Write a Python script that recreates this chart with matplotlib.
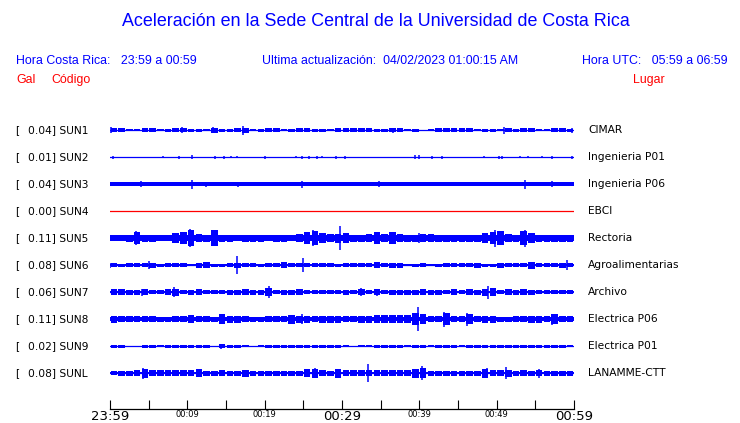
import numpy as np
import matplotlib.pyplot as plt
from matplotlib.transforms import blended_transform_factory

# estaciones (de arriba hacia abajo)
codigos = ['SUN1', 'SUN2', 'SUN3', 'SUN4', 'SUN5', 'SUN6', 'SUN7', 'SUN8', 'SUN9', 'SUNL']
gal_max = ['0.04', '0.01', '0.04', '0.00', '0.11', '0.08', '0.06', '0.11', '0.02', '0.08']
lugares = ['CIMAR', 'Ingenieria P01', 'Ingenieria P06', 'EBCI', 'Rectoria',
           'Agroalimentarias', 'Archivo', 'Electrica P06', 'Electrica P01', 'LANAMME-CTT']

# eje de tiempo: minutos desde 23:59
minutos_ticks = [0, 5, 10, 15, 20, 25, 30, 35, 40, 45, 50, 55, 60]
etiquetas_ticks = ['23:59', '', '00:09', '', '00:19', '', '00:29', '', '00:39', '', '00:49', '', '00:59']

# nivel de ruido continuo de cada traza (amplitud relativa)
ruido = [0.5, 0.5, 1.8, 0.5, 2.7, 0.7, 1.0, 2.0, 0.5, 1.3]

# envolvente por minuto (amplitud relativa)
env_sun1 = [2, 2, 1, 1, 2, 2, 1, 1.5, 2, 2, 1.5, 1.5, 1, 2.5, 1.5, 1.5, 2, 2.5, 1, 1.5,
            2, 2, 1, 1.5, 2, 2, 1.5, 1.5, 1, 2, 2, 2, 2, 2, 1.5, 1.5, 2, 2, 1, 1.5,
            0.5, 1, 2, 2, 2, 2, 2, 1, 1.5, 1.5, 1, 2, 1.5, 2, 2, 1, 1, 2, 2, 1.5]
env_sun5 = [3, 3, 3.5, 6, 3.5, 3.5, 3, 3, 5, 6, 8, 4, 3.5, 8, 3.5, 3.5, 3, 3.5, 3.5, 3.5,
            3, 3.5, 3.5, 3, 4, 6, 7, 5, 4, 4.5, 5, 3.5, 3.5, 4, 6, 4, 6, 4, 3.5, 3.5,
            4, 4, 3.5, 3.5, 3.5, 3.5, 3.5, 3.5, 5, 6, 7, 4, 3.5, 7, 5, 3.5, 3.5, 3.5, 3.5, 3.5]
env_sun6 = [2, 1.5, 2, 2, 2, 2.5, 1.5, 2, 2, 2, 1, 2.5, 3, 1.5, 1.5, 2, 2.5, 2, 2, 1.5,
            2, 2, 3, 2, 2, 2, 2, 2, 2, 1.5, 2, 2, 2, 2, 3, 2, 2.5, 2.5, 1, 1.5,
            2, 1, 1.5, 2, 2, 2, 2, 2.5, 1.5, 1.5, 2.5, 2, 2, 2, 3.5, 2, 2, 2, 2.5, 2]
env_sun7 = [3, 3, 2.5, 2.5, 3, 2, 2, 3, 3.5, 2, 2.5, 3, 2, 2, 2, 2.5, 2.5, 3, 2.5, 2.5,
            4, 2, 2.5, 2.5, 3, 2, 2, 2, 2, 2, 2.5, 2, 3, 2, 3, 2, 2.5, 2.5, 2.5, 2.5,
            3, 2.5, 2.5, 2, 3, 2, 3, 2.5, 3.5, 4, 2, 3, 2.5, 3, 2.5, 2, 2, 2, 2, 2]
env_sun8 = [3.5, 3, 3, 3, 3, 3, 2.5, 2.5, 3, 3, 4, 3, 3, 2.5, 5, 3.5, 3.5, 3, 2.5, 2.5,
            3, 3, 3, 4.5, 3.5, 3.5, 3, 3.5, 3.5, 3.5, 3, 3, 3.5, 3.5, 4, 4, 4, 4, 4, 6,
            5, 3, 3, 6, 3, 3, 5, 3, 3.5, 3.5, 2.5, 2.5, 3, 3, 3.5, 3.5, 3, 5, 3, 3]
env_sun9 = [1.5, 1.5, 0.5, 0.5, 1.5, 1.5, 1, 1.5, 1.5, 1.5, 1.5, 1.5, 1.5, 0.5, 2, 1.5, 1.5, 1, 0.5, 1,
            1.5, 1.5, 1.5, 1.5, 1.5, 1.5, 1.5, 1.5, 1.5, 1.5, 1, 0.5, 1, 1, 1.5, 1.5, 1.5, 1.5, 1, 1.5,
            1.5, 1, 1.5, 1.5, 1.5, 1, 1.5, 1.5, 1.5, 1.5, 1.5, 1.5, 1.5, 1.5, 1.5, 1.5, 1.5, 1.5, 1.5, 1]
env_sunl = [2, 2.5, 2.5, 3, 4.5, 3, 3, 3, 3, 3, 3, 4, 2.5, 2.5, 3, 2.5, 2.5, 3.5, 2.5, 2.5,
            2.5, 2.5, 2.5, 2.5, 2.5, 4, 4.5, 3, 2.5, 4.5, 3, 3, 3, 3, 3, 3, 3, 3, 3, 4.5,
            5, 2.5, 2.5, 2.5, 2.5, 2.5, 2.5, 2.5, 4.5, 3, 3, 3.5, 2.5, 3, 2.5, 3, 2.5, 2.5, 2.5, 2.5]
envolventes = [env_sun1, None, None, None, env_sun5, env_sun6, env_sun7, env_sun8, env_sun9, env_sunl]

# picos aislados: (minuto, amplitud)
picos_sun1 = [(0.1, 3), (9.3, 3), (13.3, 3), (17.2, 4.5), (36.6, 2.5), (51.0, 3.5), (59.8, 2.5)]
picos_sun2 = [(0.4, 1.5), (6.8, 1), (8.9, 1.5), (10.6, 2), (13.6, 1.5), (14.7, 1.5), (15.7, 1),
              (16.4, 1), (20.0, 1.5), (24.1, 1), (24.8, 1.5), (25.7, 1.5), (26.8, 1.5), (27.4, 1),
              (29.2, 1.5), (30.4, 1.5), (39.4, 2), (39.9, 2), (41.6, 1.5), (42.9, 1.5), (48.3, 1),
              (50.3, 1.5), (50.7, 1.5), (53.0, 1), (54.0, 1), (55.9, 1), (57.2, 1.5), (59.7, 1.5)]
picos_sun3 = [(4.0, 2.7), (10.6, 4.5), (12.4, 2.5), (16.5, 2.5), (24.8, 3.5), (34.8, 3),
              (53.7, 4.5), (57.2, 3)]
picos_sun4 = []
picos_sun5 = [(3.4, 7), (10.4, 8.7), (13.3, 8), (26.2, 8), (29.8, 12), (40.0, 5), (49.8, 8.5), (53.7, 8.5)]
picos_sun6 = [(0.0, 2.5), (5.1, 4), (16.4, 8.7), (24.9, 6.7), (54.5, 3.5), (59.1, 5)]
picos_sun7 = [(4.2, 3.5), (8.3, 5), (20.5, 5.8), (32.5, 4), (34.5, 3.5), (48.9, 6.5)]
picos_sun8 = [(14.4, 5.3), (24.8, 5), (39.8, 12), (43.2, 7.5), (46.1, 6.5), (57.1, 5.5)]
picos_sun9 = [(14.4, 2.5)]
picos_sunl = [(4.3, 5.5), (26.5, 5), (33.4, 9.3), (40.3, 6.7), (48.7, 5), (51.2, 6), (55.5, 4.5)]
picos = [picos_sun1, picos_sun2, picos_sun3, picos_sun4, picos_sun5,
         picos_sun6, picos_sun7, picos_sun8, picos_sun9, picos_sunl]

W, H = 740, 423
fig = plt.figure(figsize=(W / 100, H / 100), dpi=100)
fig.patch.set_facecolor('white')

def fx(px):
    return px / W

def fy(py):
    return 1 - py / H

azul = '#0000ff'
rojo = '#ff0000'
sans = ['Liberation Sans', 'DejaVu Sans']

# titulo y encabezados
fig.text(fx(376), fy(22), 'Aceleración en la Sede Central de la Universidad de Costa Rica',
         ha='center', va='center', color=azul, fontsize=12.9, family=sans)
fig.text(fx(16), fy(61), 'Hora Costa Rica:   23:59 a 00:59', ha='left', va='center',
         color=azul, fontsize=8.9, family=sans)
fig.text(fx(262), fy(61), 'Ultima actualización:  04/02/2023 01:00:15 AM', ha='left', va='center',
         color=azul, fontsize=8.9, family=sans)
fig.text(fx(728), fy(61), 'Hora UTC:   05:59 a 06:59', ha='right', va='center',
         color=azul, fontsize=8.9, family=sans)
fig.text(fx(16), fy(80), 'Gal', ha='left', va='center', color=rojo, fontsize=8.9, family=sans)
fig.text(fx(51), fy(80), 'Código', ha='left', va='center', color=rojo, fontsize=8.9, family=sans)
fig.text(fx(665), fy(80), 'Lugar', ha='right', va='center', color=rojo, fontsize=8.9, family=sans)

# ejes de las trazas: 1 unidad vertical = 1 pixel
ax = fig.add_axes([fx(110), fy(409), fx(574) - fx(110), fy(115) - fy(409)])
ax.set_xlim(0, 60)
ax.set_ylim(-279, 15)
ax.set_facecolor('white')
for s in ['top', 'left', 'right']:
    ax.spines[s].set_visible(False)
ax.spines['bottom'].set_linewidth(0.9)
ax.set_yticks([])

sep = 27  # separacion entre trazas
centros = np.arange(60) + 0.5
for i, cod in enumerate(codigos):
    y0 = -sep * i
    col = rojo if cod == 'SUN4' else azul
    r = ruido[i]
    ax.fill_between([0, 60], y0 - r, y0 + r, color=col, lw=0)
    ax.plot([0, 60], [y0, y0], color=col, lw=0.9)
    env = envolventes[i]
    if env is not None:
        e = np.array(env)
        # bloques por minuto
        ax.bar(centros, 2 * e, bottom=y0 - e, width=0.85, color=col, lw=0)
    for t, a in picos[i]:
        ax.vlines(t, y0 - a, y0 + a, color=col, lw=1.1)

# etiquetas de cada traza
tr = blended_transform_factory(fig.transFigure, ax.transData)
for i, cod in enumerate(codigos):
    y0 = -sep * i
    ax.text(fx(15), y0, '[', transform=tr, ha='left', va='center', fontsize=7.7,
            family='DejaVu Sans', color='black')
    ax.text(fx(28), y0, gal_max[i] + '] ' + cod, transform=tr, ha='left', va='center',
            fontsize=7.7, family='DejaVu Sans', color='black')
    ax.text(fx(588), y0, lugares[i], transform=tr, ha='left', va='center', fontsize=7.7,
            family='DejaVu Sans', color='black')

# eje de tiempo
ax.set_xticks(minutos_ticks)
ax.set_xticklabels(etiquetas_ticks, family='DejaVu Sans')
ax.tick_params(axis='x', direction='in', length=6.5, width=0.8, pad=0.5, colors='black')
for lab in ax.get_xticklabels():
    if lab.get_text() in ('23:59', '00:29', '00:59'):
        lab.set_fontsize(9.5)
    else:
        lab.set_fontsize(6)

fig.savefig('out.png', dpi=100)
